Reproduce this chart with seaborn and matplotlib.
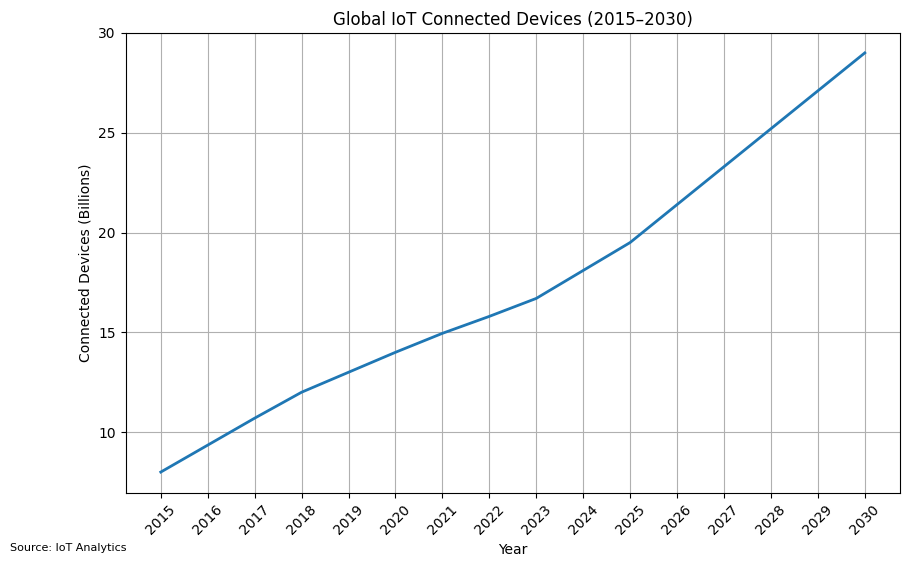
import pandas as pd
import seaborn as sns
import matplotlib.pyplot as plt

# Connected IoT devices, in billions
years = list(range(2015, 2031))
devices = [8.0, 9.35, 10.7, 12.0, 13.0, 14.0, 14.95, 15.8, 16.7, 18.1,
           19.5, 21.4, 23.3, 25.2, 27.1, 29.0]

df = pd.DataFrame({'Year': years, 'Devices': devices})

fig, ax = plt.subplots(figsize=(9.1, 5.68), dpi=100)
sns.lineplot(data=df, x='Year', y='Devices', ax=ax, color='#1f77b4', linewidth=2)

ax.set_title('Global IoT Connected Devices (2015–2030)', fontsize=12)
ax.set_xlabel('Year')
ax.set_ylabel('Connected Devices (Billions)')
ax.set_xticks(years)
ax.set_xticklabels([str(y) for y in years], rotation=45)
ax.set_yticks([10, 15, 20, 25, 30])
ax.set_ylim(6.95, 30)
ax.grid(True)

fig.text(0.011, 0.03, 'Source: IoT Analytics', fontsize=8)

plt.subplots_adjust(left=0.138, right=0.989, top=0.942, bottom=0.132)
plt.savefig('out.png')
